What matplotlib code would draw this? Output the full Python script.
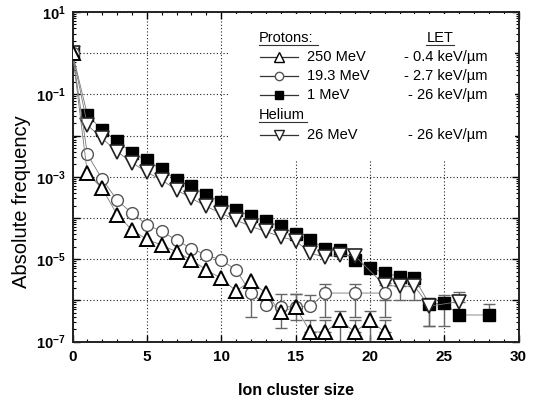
import numpy as np
import matplotlib
matplotlib.use("Agg")
from matplotlib import pyplot as plt
from matplotlib.lines import Line2D
from matplotlib.patches import Rectangle
from matplotlib.ticker import FixedLocator, FuncFormatter, LogLocator, MultipleLocator

plt.rcParams["font.family"] = ["Liberation Sans", "DejaVu Sans"]
plt.rcParams["mathtext.default"] = "regular"

# --- data ---
x_250 = [0, 1, 2, 3, 4, 5, 6, 7, 8, 9, 10, 11, 12, 13, 14, 15, 16, 17, 18, 19, 20, 21]
y_250 = [1.0, 1.2e-3, 5.2e-4, 1.2e-4, 5.1e-5, 3.0e-5, 2.2e-5, 1.5e-5, 9.5e-6, 5.5e-6, 3.4e-6,
         1.7e-6, 2.9e-6, 1.5e-6, 5.2e-7, 6.9e-7, 1.7e-7, 1.7e-7, 3.3e-7, 1.7e-7, 3.3e-7, 1.7e-7]
err_250_x = [14, 15, 16, 17, 18, 19, 20, 21]
err_250_lo = [2.1e-7, 3.3e-7, 1.7e-7, 1.7e-7, 8e-8, 1.7e-7, 8e-8, 1.7e-7]
err_250_hi = [1.4e-6, 1.4e-6, 3.3e-7, 3.3e-7, 5.5e-7, 3.3e-7, 5.5e-7, 3.3e-7]

x_19 = [0, 1, 2, 3, 4, 5, 6, 7, 8, 9, 10, 11, 12, 13, 14, 15, 16, 17, 19, 21]
y_19 = [1.0, 3.5e-3, 8.7e-4, 2.7e-4, 1.3e-4, 6.9e-5, 4.7e-5, 2.9e-5, 1.8e-5, 1.26e-5, 9.5e-6,
        5.5e-6, 1.5e-6, 7.8e-7, 6.9e-7, 7.0e-7, 7.2e-7, 1.5e-6, 1.5e-6, 1.5e-6]
err_19_x = [12, 15, 16, 17, 19, 21]
err_19_lo = [4.0e-7, 7.0e-7, 7.2e-7, 4.0e-7, 4.0e-7, 4.0e-7]
err_19_hi = [1.5e-6, 1.4e-6, 1.35e-6, 2.5e-6, 2.5e-6, 2.7e-6]

x_1 = [0, 1, 2, 3, 4, 5, 6, 7, 8, 9, 10, 11, 12, 13, 14, 15, 16, 17, 18, 19, 20, 21, 22, 23,
       24, 25, 26, 28]
y_1 = [1.0, 3.2e-2, 1.35e-2, 7.4e-3, 3.8e-3, 2.5e-3, 1.5e-3, 8.3e-4, 5.8e-4, 3.6e-4, 2.5e-4,
       1.6e-4, 1.1e-4, 8.5e-5, 6.2e-5, 4.1e-5, 2.9e-5, 1.8e-5, 1.66e-5, 9.5e-6, 6.0e-6, 4.7e-6,
       3.7e-6, 3.5e-6, 8.1e-7, 8.5e-7, 4.4e-7, 4.4e-7]
err_1_x = [24, 25, 28]
err_1_lo = [2.4e-7, 2.4e-7, 4.4e-7]
err_1_hi = [8.1e-7, 1.35e-6, 8.1e-7]

x_he = [0, 1, 2, 3, 4, 5, 6, 7, 8, 9, 10, 11, 12, 13, 14, 15, 16, 17, 18, 19, 21, 22, 23, 24, 26]
y_he = [1.0, 1.8e-2, 8.5e-3, 4.1e-3, 2.2e-3, 1.3e-3, 8.3e-4, 4.8e-4, 3.0e-4, 1.9e-4, 1.3e-4,
        8.9e-5, 6.2e-5, 4.7e-5, 3.5e-5, 2.8e-5, 1.4e-5, 1.1e-5, 1.26e-5, 1.2e-5, 2.3e-6, 2.2e-6,
        2.2e-6, 7.2e-7, 9.3e-7]
err_he_x = [21, 22, 23, 24, 26]
err_he_lo = [1.0e-6, 1.0e-6, 1.0e-6, 2.4e-7, 9.3e-7]
err_he_hi = [2.3e-6, 2.2e-6, 2.2e-6, 7.2e-7, 1.6e-6]

legend_names = ["250 MeV", "19.3 MeV", "1 MeV", "26 MeV"]
legend_let = ["- 0.4 keV/\u00b5m", "- 2.7 keV/\u00b5m", "- 26 keV/\u00b5m", "- 26 keV/\u00b5m"]

W, H = 542, 401


def fx(px):
    return px / W


def fy(py):
    return 1 - py / H


fig = plt.figure(figsize=(W / 100, H / 100), dpi=100)
ax = fig.add_axes([fx(72.5), fy(341.5), fx(518.5) - fx(72.5), fy(12) - fy(341.5)])
ax.set_yscale("log")
ax.set_xlim(0, 30)
ax.set_ylim(1e-7, 10)

ax.grid(True, which="major", color="#222222", linestyle=(0, (1, 2)), linewidth=0.8)
ax.set_axisbelow(True)

# white box behind the legend text (hides grid)
ax.add_patch(Rectangle((fx(229), fy(160)), fx(515) - fx(229), fy(14) - fy(160),
                       transform=fig.transFigure, facecolor="white", edgecolor="none", zorder=1.5))


def errs(ex, lo, hi, ys, xs):
    yv = np.array([ys[xs.index(v)] for v in ex])
    return np.vstack([yv - np.array(lo), np.array(hi) - yv]), yv


ecol = "#666666"
for ex, lo, hi, ys, xs in [(err_1_x, err_1_lo, err_1_hi, y_1, x_1),
                           (err_he_x, err_he_lo, err_he_hi, y_he, x_he),
                           (err_19_x, err_19_lo, err_19_hi, y_19, x_19),
                           (err_250_x, err_250_lo, err_250_hi, y_250, x_250)]:
    e, yv = errs(ex, lo, hi, ys, xs)
    ax.errorbar(ex, yv, yerr=e, fmt="none", ecolor=ecol, elinewidth=1.0, capsize=4.5,
                capthick=1.0, zorder=2)

lcol = "#777777"
ax.plot(x_1, y_1, color=lcol, lw=0.6, marker="s", ms=8.5, mfc="black", mec="black",
        zorder=3)
ax.plot(x_he, y_he, color=lcol, lw=0.6, marker="v", ms=10, mfc="white", mec="#222222",
        mew=1.2, zorder=4)
ax.plot(x_19, y_19, color=lcol, lw=0.6, marker="o", ms=8.5, mfc="white", mec="#555555",
        mew=1.0, zorder=5)
ax.plot(x_250, y_250, color=lcol, lw=0.6, marker="^", ms=10.5, mfc="white", mec="black",
        mew=1.4, zorder=6)

# ticks
ax.xaxis.set_major_locator(MultipleLocator(5))
ax.xaxis.set_minor_locator(MultipleLocator(1))
ax.yaxis.set_major_locator(FixedLocator([10.0 ** k for k in range(-7, 2)]))
ax.yaxis.set_minor_locator(LogLocator(base=10, subs=np.arange(2, 10), numticks=20))
ax.yaxis.set_minor_formatter(FuncFormatter(lambda v, p: ""))


def ylab(v, pos):
    k = int(round(np.log10(v)))
    if k % 2 == 0:
        return ""
    return "$10^{%d}$" % k


ax.yaxis.set_major_formatter(FuncFormatter(ylab))
ax.tick_params(which="both", direction="in", top=True, right=True)
ax.tick_params(which="major", length=5, width=1.0)
ax.tick_params(which="minor", length=2.5, width=0.8)
ax.tick_params(axis="x", labelsize=11, pad=6)
ax.tick_params(axis="y", labelsize=10.5, pad=5)
for lab in ax.get_xticklabels() + ax.get_yticklabels():
    lab.set_fontweight("bold")
for s in ax.spines.values():
    s.set_linewidth(1.4)
    s.set_color("#222222")

ax.set_xlabel("Ion cluster size", fontsize=11.5, fontweight="bold", labelpad=14)
ax.set_ylabel("Absolute frequency", fontsize=14.5)
ax.yaxis.set_label_coords(-0.093, 0.425)

# custom legend
tsize = 10.5
fig.text(fx(259), fy(38), "Protons:", fontsize=tsize, va="center", ha="left")
fig.text(fx(440), fy(38), "LET", fontsize=tsize, va="center", ha="center")
fig.text(fx(259), fy(115), "Helium", fontsize=tsize, va="center", ha="left")
for x0, x1, yy in [(259, 318, 44.5), (426, 454, 44.5), (259, 307, 121.5)]:
    fig.add_artist(Line2D([fx(x0), fx(x1)], [fy(yy), fy(yy)], color="#333333", lw=0.8))

rows = [57, 76, 95, 135]
styles = [dict(marker="^", ms=7, mfc="white", mec="black", mew=1.0),
          dict(marker="o", ms=6, mfc="white", mec="#555555", mew=1.0),
          dict(marker="s", ms=6, mfc="black", mec="black"),
          dict(marker="v", ms=7, mfc="white", mec="#222222", mew=1.0)]
for yy, name, let, st in zip(rows, legend_names, legend_let, styles):
    fig.add_artist(Line2D([fx(260), fx(298)], [fy(yy), fy(yy)], color="#333333", lw=0.9))
    fig.add_artist(Line2D([fx(279)], [fy(yy)], **st))
    fig.text(fx(307), fy(yy), name, fontsize=tsize, va="center", ha="left")
    fig.text(fx(488), fy(yy), let, fontsize=tsize, va="center", ha="right")

fig.savefig("out.png", dpi=100)
